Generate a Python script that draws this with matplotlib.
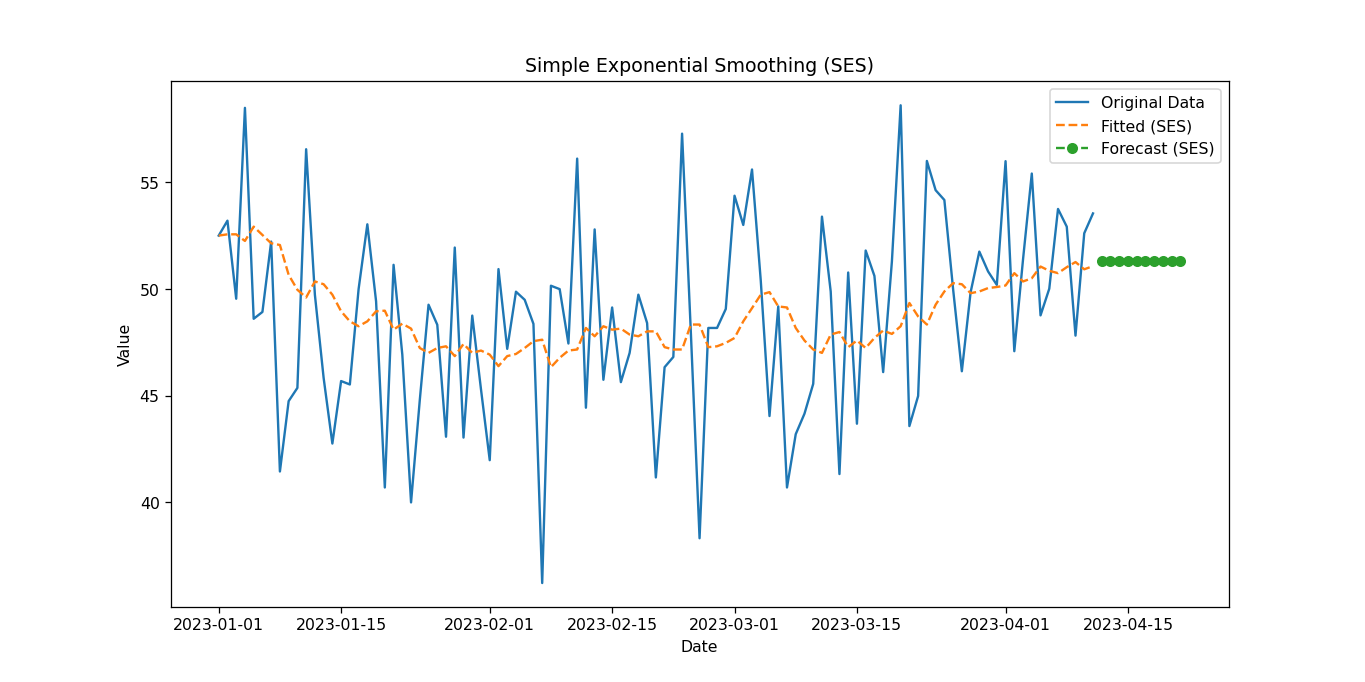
import numpy as np
import pandas as pd
import matplotlib
matplotlib.use("Agg")
import matplotlib.pyplot as plt

# values
original = [52.51, 53.21, 49.55, 58.50, 48.61, 48.93, 52.23, 41.45, 44.75, 45.37,
            56.56, 49.74, 45.84, 42.76, 45.69, 45.53, 50.00, 53.04, 49.43, 40.70,
            51.14, 46.93, 40.00, 44.80, 49.27, 48.33, 43.08, 51.95, 43.04, 48.76,
            45.30, 41.98, 50.94, 47.20, 49.88, 49.50, 48.37, 36.22, 50.16, 50.00,
            47.45, 56.12, 44.44, 52.80, 45.75, 49.14, 45.64, 47.01, 49.74, 48.41,
            41.17, 46.34, 46.82, 57.29, 48.00, 38.32, 48.18, 48.18, 49.07, 54.38,
            53.01, 55.61, 50.40, 44.05, 49.19, 40.70, 43.20, 44.16, 45.56, 53.40,
            49.89, 41.33, 50.78, 43.69, 51.81, 50.62, 46.11, 51.30, 58.62, 43.58,
            44.99, 56.01, 54.64, 54.18, 50.00, 46.15, 49.85, 51.76, 50.83, 50.20,
            56.00, 47.09, 51.40, 55.42, 48.77, 50.02, 53.76, 52.93, 47.82, 52.62,
            53.55]

fitted = [52.51, 52.57, 52.57, 52.26, 52.93, 52.54, 52.15, 52.07, 50.67, 49.97,
          49.61, 50.36, 50.23, 49.74, 48.96, 48.49, 48.26, 48.49, 48.96, 48.99,
          48.10, 48.38, 48.15, 47.24, 47.01, 47.24, 47.32, 46.86, 47.43, 47.01,
          47.12, 46.93, 46.39, 46.86, 46.96, 47.24, 47.56, 47.63, 46.34, 46.78,
          47.12, 47.17, 48.18, 47.79, 48.26, 48.10, 48.15, 47.87, 47.79, 48.02,
          48.02, 47.28, 47.17, 47.17, 48.34, 48.34, 47.28, 47.32, 47.48, 47.71,
          48.49, 49.11, 49.74, 49.86, 49.19, 49.14, 48.18, 47.59, 47.17, 47.01,
          47.87, 47.99, 47.28, 47.59, 47.24, 47.71, 48.06, 47.90, 48.26, 49.35,
          48.72, 48.34, 49.27, 49.89, 50.28, 50.23, 49.81, 49.89, 50.05, 50.10,
          50.17, 50.75, 50.36, 50.51, 51.06, 50.86, 50.75, 51.03, 51.27, 50.93,
          51.08]

forecast = [51.33] * 10

dates = pd.date_range('2023-01-01', periods=len(original), freq='D')
forecast_dates = pd.date_range(dates[-1] + pd.Timedelta(days=1), periods=len(forecast), freq='D')

fig = plt.figure(figsize=(12, 6), dpi=113.75)
plt.plot(dates, original, label='Original Data')
plt.plot(dates, fitted, linestyle='--', label='Fitted (SES)')
plt.plot(forecast_dates, forecast, marker='o', linestyle='--', label='Forecast (SES)')
plt.title('Simple Exponential Smoothing (SES)')
plt.xlabel('Date')
plt.ylabel('Value')
plt.legend()
plt.savefig('out.png', dpi=113.75)
